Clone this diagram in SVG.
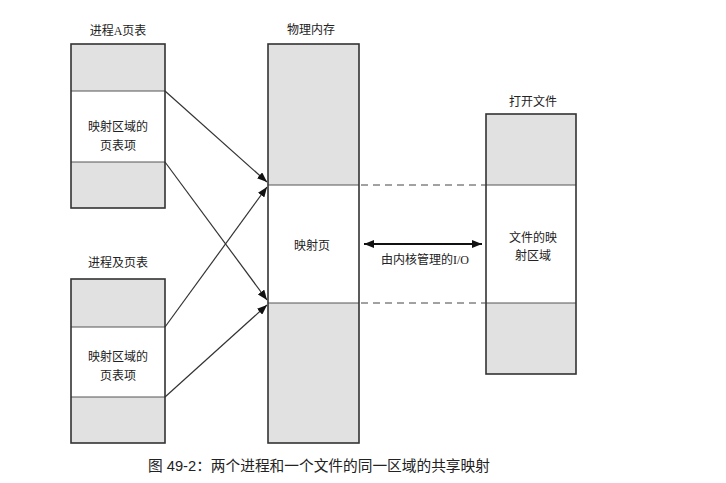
<svg xmlns="http://www.w3.org/2000/svg" width="726" height="483" viewBox="0 0 726 483">
<defs>
<style>
.g{fill:#e1e1e1;stroke:none}
.w{fill:#ffffff;stroke:none}
.div{stroke:#555;stroke-width:1;fill:none}
.box{fill:none;stroke:#333;stroke-width:1.6}
.t{font-family:"Liberation Serif","Noto Sans CJK SC",serif;font-size:12px;fill:#222;text-anchor:middle}
.cap{font-family:"Liberation Sans","Noto Sans CJK SC",sans-serif;font-size:14.7px;fill:#222}
.ln{stroke:#333;stroke-width:1.2;fill:none}
.dash{stroke:#444;stroke-width:1;stroke-dasharray:7,5;fill:none}
</style>
<marker id="ah" viewBox="0 0 10 8" refX="10" refY="4" markerWidth="10" markerHeight="8" markerUnits="userSpaceOnUse" orient="auto-start-reverse">
<path d="M0,0 L10,4 L0,8 Z" fill="#111"/>
</marker>
</defs>
<rect width="726" height="483" fill="#fff"/>

<g id="procA">
<text class="t" x="118" y="35">进程A页表</text>
<rect class="g" x="71" y="44" width="94" height="47"/>
<rect class="w" x="71" y="91" width="94" height="71"/>
<rect class="g" x="71" y="162" width="94" height="46"/>
<line class="div" x1="71" y1="91" x2="165" y2="91"/>
<line class="div" x1="71" y1="162" x2="165" y2="162"/>
<rect class="box" x="71" y="44" width="94" height="164"/>
<text class="t" x="118" y="131">映射区域的</text>
<text class="t" x="118" y="150">页表项</text>
</g>

<g id="procB">
<text class="t" x="118" y="267">进程及页表</text>
<rect class="g" x="71" y="279" width="94" height="48"/>
<rect class="w" x="71" y="327" width="94" height="70"/>
<rect class="g" x="71" y="397" width="94" height="46"/>
<line class="div" x1="71" y1="327" x2="165" y2="327"/>
<line class="div" x1="71" y1="397" x2="165" y2="397"/>
<rect class="box" x="71" y="279" width="94" height="164"/>
<text class="t" x="118" y="361">映射区域的</text>
<text class="t" x="118" y="380">页表项</text>
</g>

<g id="phys">
<text class="t" x="311" y="34">物理内存</text>
<rect class="g" x="268" y="44" width="91" height="141"/>
<rect class="w" x="268" y="185" width="91" height="118"/>
<rect class="g" x="268" y="303" width="91" height="140"/>
<line class="div" x1="268" y1="185" x2="359" y2="185"/>
<line class="div" x1="268" y1="303" x2="359" y2="303"/>
<rect class="box" x="268" y="44" width="91" height="399"/>
<text class="t" x="312" y="250">映射页</text>
</g>

<g id="file">
<text class="t" x="533" y="106">打开文件</text>
<rect class="g" x="486" y="114" width="90" height="71"/>
<rect class="w" x="486" y="185" width="90" height="118"/>
<rect class="g" x="486" y="303" width="90" height="71"/>
<line class="div" x1="486" y1="185" x2="576" y2="185"/>
<line class="div" x1="486" y1="303" x2="576" y2="303"/>
<rect class="box" x="486" y="114" width="90" height="260"/>
<text class="t" x="533" y="242">文件的映</text>
<text class="t" x="533" y="260">射区域</text>
</g>

<g id="connectors">
<line class="ln" x1="165" y1="91" x2="267" y2="182" marker-end="url(#ah)"/>
<line class="ln" x1="165" y1="162" x2="267" y2="300" marker-end="url(#ah)"/>
<line class="ln" x1="165" y1="327" x2="267" y2="187" marker-end="url(#ah)"/>
<line class="ln" x1="165" y1="397" x2="267" y2="305" marker-end="url(#ah)"/>
<line class="dash" x1="361" y1="185" x2="486" y2="185"/>
<line class="dash" x1="361" y1="303" x2="486" y2="303"/>
<line stroke="#111" stroke-width="2" x1="364" y1="244" x2="482" y2="244" marker-start="url(#ah)" marker-end="url(#ah)"/>
<text class="t" x="425" y="264">由内核管理的I/O</text>
</g>

<text class="cap" x="148" y="471">图 49-2：两个进程和一个文件的同一区域的共享映射</text>
</svg>
